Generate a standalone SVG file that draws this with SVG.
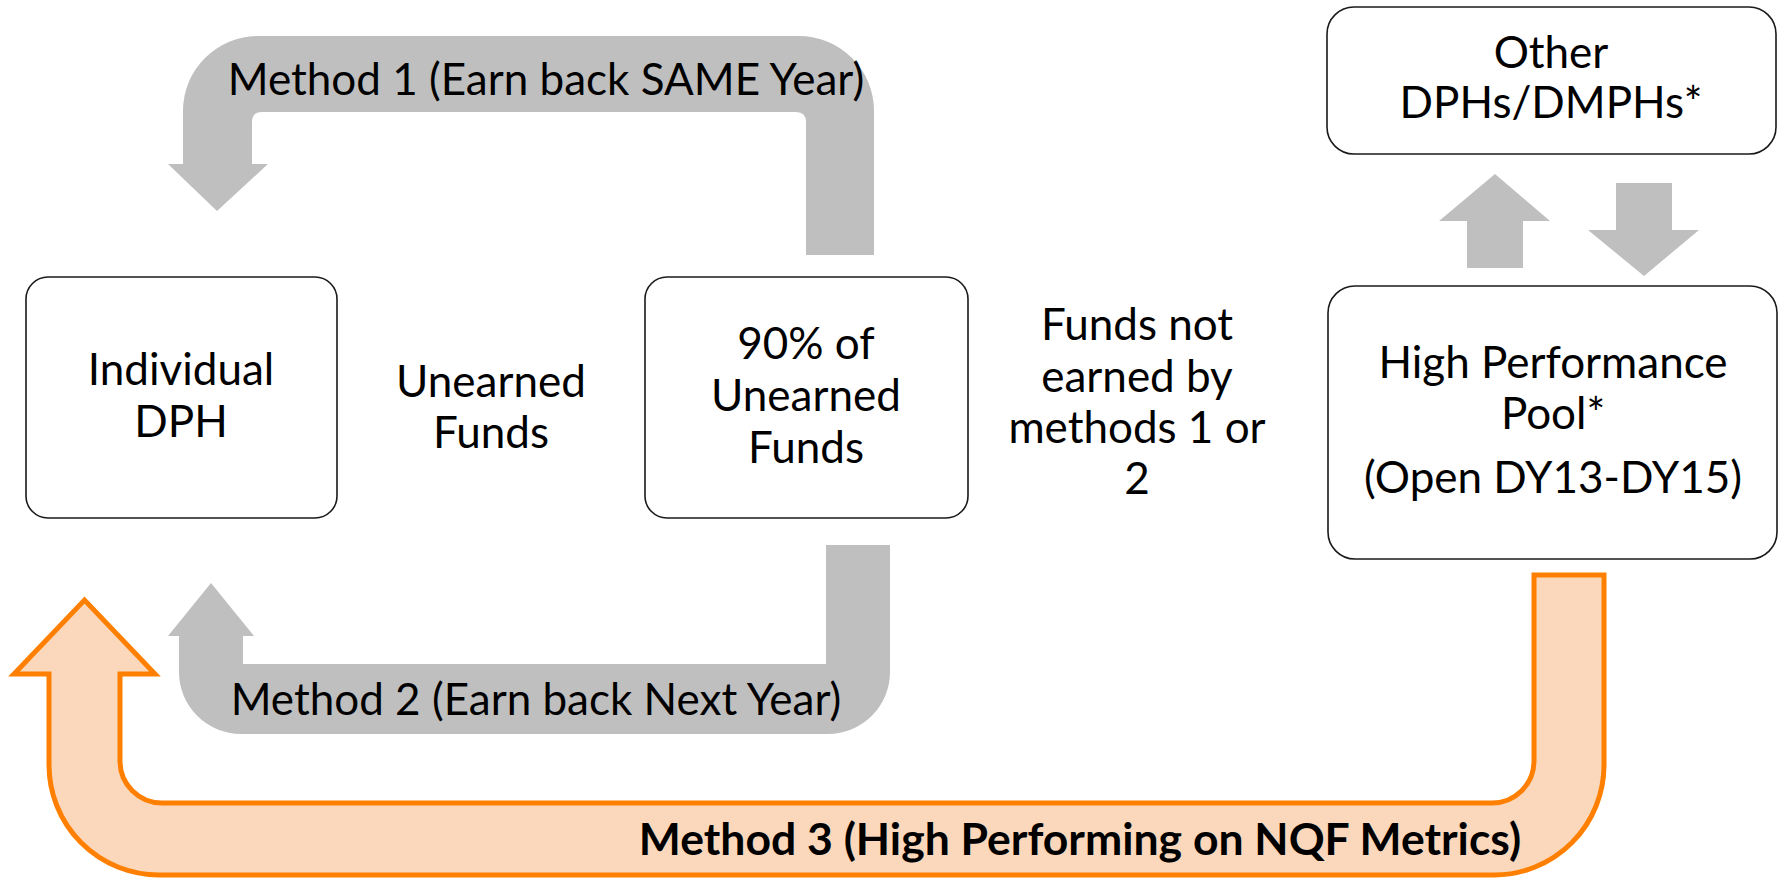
<svg xmlns="http://www.w3.org/2000/svg" width="1781" height="879" viewBox="0 0 1781 879">
  <style>
    .box { fill: #ffffff; stroke: #1a1a1a; stroke-width: 1.6; }
    .flow { fill: #bfbfbf; stroke: none; }
    .pool { fill: #fbd8bc; stroke: #ff8000; stroke-width: 5; stroke-linejoin: miter; }
    text { font-family: Lato, "Open Sans", sans-serif; font-size: 44px; fill: #000000; text-anchor: middle; }
    .bold { font-weight: bold; font-size: 44.5px; }
  </style>
  <rect width="1781" height="879" fill="#ffffff"/>

  <!-- connectors: wide block arrows -->
  <g id="connectors">
    <!-- Method 1: from the 90% box back over the top to Individual DPH -->
    <path id="method1" class="flow" d="M 806 255 L 806 122 Q 806 112 796 112 L 262 112 Q 252 112 252 122 L 252 164 L 268 164 L 217 211 L 168 164 L 183 164 L 183 111 A 75 75 0 0 1 258 36 L 799 36 A 75 75 0 0 1 874 111 L 874 255 Z"/>
    <!-- Method 2: from the 90% box back underneath to Individual DPH -->
    <path id="method2" class="flow" d="M 826 545 L 890 545 L 890 672 A 62 62 0 0 1 828 734 L 241 734 A 62 62 0 0 1 179 672 L 179 636 L 168 636 L 211 583 L 254 636 L 243 636 L 243 664 L 826 664 Z"/>
    <!-- Pool exchange with other DPHs -->
    <path id="to-other" class="flow" d="M 1467 268 L 1467 221 L 1439 221 L 1495 174 L 1550 221 L 1523 221 L 1523 268 Z"/>
    <path id="from-other" class="flow" d="M 1616 183 L 1672 183 L 1672 230 L 1699 230 L 1644 276 L 1588 230 L 1616 230 Z"/>
    <!-- Method 3: from the pool along the bottom to Individual DPH -->
    <path id="method3" class="pool" d="M 1534 575 L 1604 575 L 1604 765 A 110 110 0 0 1 1494 875 L 159 875 A 110 110 0 0 1 49 765 L 49 674 L 14 674 L 84.5 600 L 155 674 L 120 674 L 120 761 A 42 42 0 0 0 162 803 L 1492 803 A 42 42 0 0 0 1534 761 Z"/>
    <text x="546" y="95">Method 1 (Earn back SAME Year)</text>
    <text x="536" y="715">Method 2 (Earn back Next Year)</text>
    <text class="bold" x="1080" y="855">Method 3 (High Performing on NQF Metrics)</text>
  </g>

  <g id="individual-dph">
    <rect class="box" x="26" y="277" width="311" height="241" rx="22"/>
    <text x="181" y="385">Individual</text>
    <text x="181" y="437">DPH</text>
  </g>

  <g id="unearned-funds">
    <text x="491" y="397">Unearned</text>
    <text x="491" y="448">Funds</text>
  </g>

  <g id="ninety-percent">
    <rect class="box" x="645" y="277" width="323" height="241" rx="22"/>
    <text x="806" y="359">90% of</text>
    <text x="806" y="411">Unearned</text>
    <text x="806" y="463">Funds</text>
  </g>

  <g id="funds-not-earned">
    <text x="1137" y="340">Funds not</text>
    <text x="1137" y="392">earned by</text>
    <text x="1137" y="443">methods 1 or</text>
    <text x="1137" y="494">2</text>
  </g>

  <g id="other-dphs">
    <rect class="box" x="1327" y="7" width="449" height="147" rx="27"/>
    <text x="1551" y="68">Other</text>
    <text x="1551" y="118">DPHs/DMPHs*</text>
  </g>

  <g id="high-performance-pool">
    <rect class="box" x="1328" y="286" width="449" height="273" rx="27"/>
    <text x="1553" y="378">High Performance</text>
    <text x="1553" y="429">Pool*</text>
    <text x="1553" y="493">(Open DY13-DY15)</text>
  </g>
</svg>
